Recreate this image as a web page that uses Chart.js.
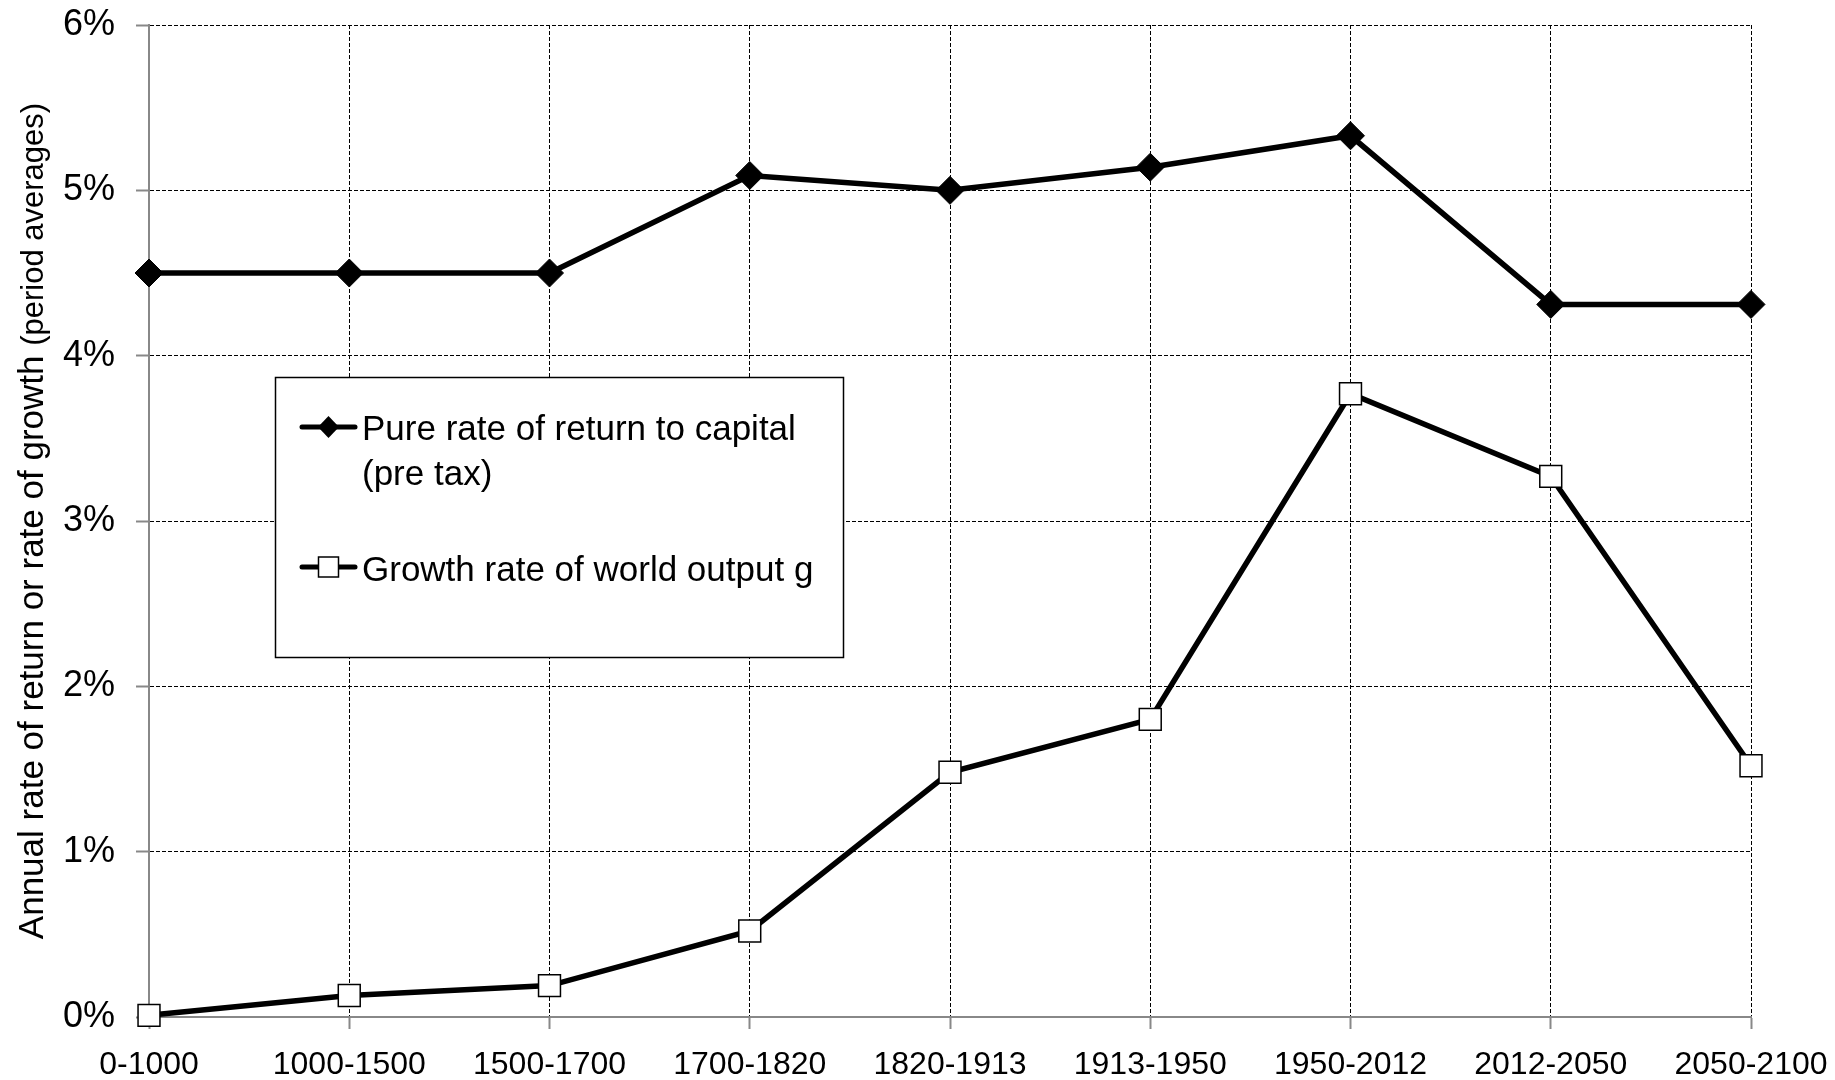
<!DOCTYPE html>
<html><head><meta charset="utf-8">
<script src="https://cdn.jsdelivr.net/npm/chart.js@4.4.1/dist/chart.umd.min.js"></script>
<style>html,body{margin:0;padding:0;background:#fff;overflow:hidden}#wrap{width:1835px;height:1080px}</style>
</head><body><div id="wrap"><canvas id="c" width="1835" height="1080"></canvas></div>
<script>
const categories = ['0-1000','1000-1500','1500-1700','1700-1820','1820-1913','1913-1950','1950-2012','2012-2050','2050-2100'];
const returnToCapital = [4.5, 4.5, 4.5, 5.09, 5.0, 5.14, 5.33, 4.31, 4.31];
const worldGrowth = [0.01, 0.13, 0.19, 0.52, 1.48, 1.80, 3.77, 3.27, 1.52];
const yTickValues = [0, 1, 2, 3, 4, 5, 6];
const seriesLabelR = ['Pure rate of return to capital', '(pre tax)'];
const seriesLabelG = ['Growth rate of world output g'];
const yTitleMain = 'Annual rate of return or rate of growth';
const yTitleSub = '(period averages)';

const FONT = '"Liberation Sans", Arial, sans-serif';

const yTitlePlugin = {
  id: 'yTitle',
  afterDraw(chart) {
    const ctx = chart.ctx;
    const ca = chart.chartArea;
    ctx.save();
    ctx.font = '35px ' + FONT;
    const w1 = ctx.measureText(yTitleMain + ' ').width;
    ctx.font = '31px ' + FONT;
    const w2 = ctx.measureText(yTitleSub).width;
    const total = w1 + w2;
    const cy = (ca.top + ca.bottom) / 2;
    ctx.translate(43, cy + total / 2);
    ctx.rotate(-Math.PI / 2);
    ctx.fillStyle = '#000';
    ctx.textAlign = 'left';
    ctx.textBaseline = 'alphabetic';
    ctx.font = '35px ' + FONT;
    ctx.fillText(yTitleMain + ' ', 0, 0);
    ctx.font = '31px ' + FONT;
    ctx.fillText(yTitleSub, w1, 0);
    ctx.restore();
  }
};

const boxLegendPlugin = {
  id: 'boxLegend',
  afterDraw(chart) {
    const ctx = chart.ctx;
    ctx.save();
    ctx.fillStyle = '#fff';
    ctx.strokeStyle = '#000';
    ctx.lineWidth = 1.5;
    ctx.fillRect(275.5, 377.5, 568, 280);
    ctx.strokeRect(275.5, 377.5, 568, 280);
    const ds0 = chart.data.datasets[0], ds1 = chart.data.datasets[1];
    ctx.lineWidth = 5;
    ctx.lineCap = 'round';
    ctx.strokeStyle = ds0.borderColor;
    ctx.beginPath(); ctx.moveTo(302, 427); ctx.lineTo(355, 427); ctx.stroke();
    ctx.fillStyle = ds0.pointBackgroundColor;
    ctx.beginPath();
    ctx.moveTo(328.5, 416); ctx.lineTo(339, 427); ctx.lineTo(328.5, 438); ctx.lineTo(318, 427); ctx.closePath();
    ctx.fill();
    ctx.strokeStyle = ds1.borderColor;
    ctx.beginPath(); ctx.moveTo(302, 567); ctx.lineTo(355, 567); ctx.stroke();
    ctx.fillStyle = ds1.pointBackgroundColor;
    ctx.lineWidth = 1.5;
    ctx.strokeStyle = ds1.pointBorderColor;
    ctx.fillRect(318.5, 557, 20, 20);
    ctx.strokeRect(318.5, 557, 20, 20);
    ctx.fillStyle = '#000';
    ctx.font = '35px ' + FONT;
    ctx.textAlign = 'left';
    ctx.textBaseline = 'alphabetic';
    ctx.fillText(seriesLabelR[0], 362, 440);
    ctx.fillText(seriesLabelR[1], 362, 485);
    ctx.fillText(seriesLabelG[0], 362, 581);
    ctx.restore();
  }
};

new Chart(document.getElementById('c'), {
  type: 'line',
  data: {
    labels: categories,
    datasets: [
      {
        label: seriesLabelR.join(' '),
        data: returnToCapital,
        borderColor: '#000',
        borderWidth: 5.5,
        pointStyle: 'rectRot',
        pointRadius: 14,
        pointBackgroundColor: '#000',
        pointBorderColor: '#000',
        pointBorderWidth: 1,
        tension: 0,
        clip: false
      },
      {
        label: seriesLabelG[0],
        data: worldGrowth,
        borderColor: '#000',
        borderWidth: 5.5,
        pointStyle: 'rect',
        pointRadius: 15.5,
        pointBackgroundColor: '#fff',
        pointBorderColor: '#000',
        pointBorderWidth: 1.5,
        tension: 0,
        clip: false
      }
    ]
  },
  options: {
    responsive: false,
    animation: false,
    devicePixelRatio: 1,
    layout: { padding: { left: 0, right: 84, top: 25, bottom: 0 } },
    plugins: { legend: { display: false }, tooltip: { enabled: false } },
    scales: {
      x: {
        offset: false,
        afterFit(s) { s.height = 63; s.paddingLeft = 0; s.paddingRight = 0; },
        grid: {
          color: (c) => (c.index === 0 ? 'rgba(0,0,0,0)' : '#000'),
          lineWidth: 1,
          tickColor: '#888',
          tickLength: 12,
          tickWidth: 2,
          tickBorderDash: []
        },
        border: { color: '#888', width: 2, dash: [4, 2] },
        ticks: {
          color: '#000',
          font: { family: FONT, size: 32 },
          maxRotation: 0,
          autoSkip: false,
          padding: 17
        }
      },
      y: {
        min: 0,
        max: 6,
        afterFit(s) { s.width = 149; s.paddingTop = 0; s.paddingBottom = 0; },
        afterBuildTicks(s) { s.ticks = yTickValues.map(v => ({ value: v })); },
        grid: {
          color: (c) => (c.tick && c.tick.value === 0 ? 'rgba(0,0,0,0)' : '#000'),
          lineWidth: 1,
          tickColor: '#888',
          tickLength: 13,
          tickWidth: 2,
          tickBorderDash: []
        },
        border: { color: '#888', width: 2, dash: [4, 2] },
        ticks: {
          color: '#000',
          font: { family: FONT, size: 36 },
          padding: 21,
          callback: (v) => v + '%'
        }
      }
    }
  },
  plugins: [yTitlePlugin, boxLegendPlugin]
});
</script>
</body></html>
